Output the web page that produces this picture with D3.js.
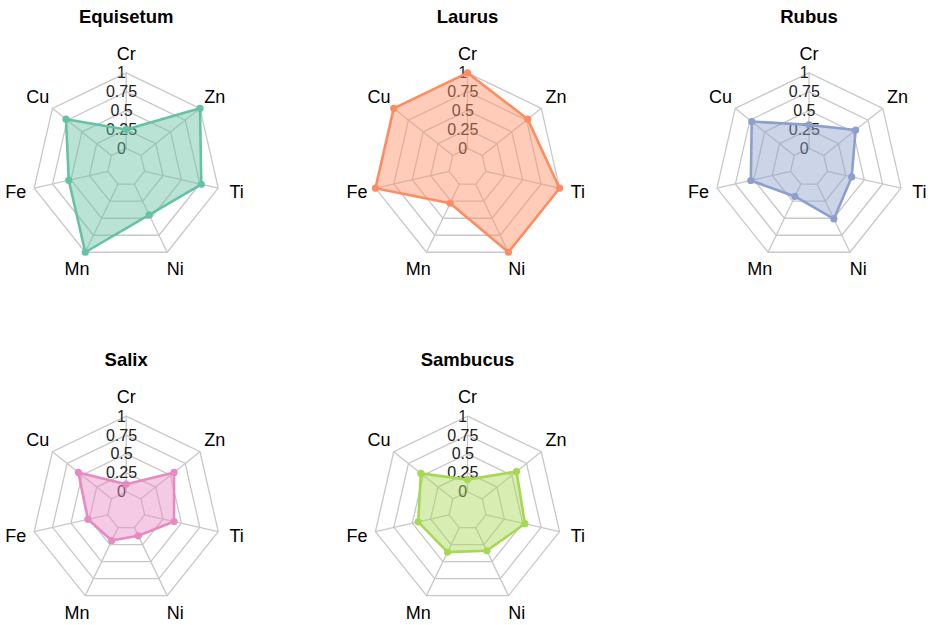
<!DOCTYPE html>
<html>
<head>
<meta charset="utf-8">
<script src="https://cdn.jsdelivr.net/npm/d3@7"></script>
<style>
  html, body { margin: 0; padding: 0; background: #fff; }
  svg { display: block; font-family: "Liberation Sans", Arial, sans-serif; }
</style>
</head>
<body>
<svg id="chart" width="935" height="625"></svg>
<script>
// Metal concentrations (scaled 0–1) per plant genus
const elements = ["Cr", "Zn", "Ti", "Ni", "Mn", "Fe", "Cu"];
const species = ["Equisetum", "Laurus", "Rubus", "Salix", "Sambucus"];
const colors = ["#66c2a5", "#fc8d62", "#8da0cb", "#e78ac3", "#a6d854"];

const equisetum = [0.25, 1.00, 0.77, 0.45, 1.00, 0.53, 0.77];
const laurus    = [1.00, 0.77, 1.00, 1.00, 0.28, 1.00, 1.00];
const rubus     = [0.31, 0.54, 0.33, 0.51, 0.18, 0.54, 0.72];
const salix     = [0.10, 0.56, 0.40, 0.12, 0.19, 0.27, 0.56];
const sambucus  = [0.16, 0.58, 0.53, 0.34, 0.36, 0.42, 0.54];
const seriesValues = [equisetum, laurus, rubus, salix, sambucus];

const ringValues = [0, 0.25, 0.5, 0.75, 1];
const ringLabels = ["0", "0.25", "0.5", "0.75", "1"];

const svg = d3.select("#chart");

const R = 94.4;
const colX = [126.2, 467.5, 809];
const rowY = [167.2, 510.6];

// radius: value 0 sits on the inner ring, value 1 on the outer ring
const r = d3.scaleLinear().domain([0, 1]).range([R / 5, R]);
const angle = d3.scaleLinear().domain([0, elements.length]).range([0, 2 * Math.PI]);

const px = (a, rad) => rad * Math.sin(a);
const py = (a, rad) => -rad * Math.cos(a);

species.forEach((name, k) => {
  const cx = colX[k % 3];
  const cy = rowY[Math.floor(k / 3)];
  const g = svg.append("g").attr("transform", `translate(${cx},${cy})`);
  const vals = seriesValues[k];
  const col = colors[k];

  // title
  g.append("text")
    .attr("x", 0).attr("y", -151)
    .attr("text-anchor", "middle")
    .attr("dominant-baseline", "central")
    .attr("font-size", 18.5).attr("font-weight", "bold")
    .attr("fill", "#000")
    .text(name);

  // web rings
  const ringLine = d3.lineRadial()
    .angle((d, i) => angle(i))
    .radius(d => d)
    .curve(d3.curveLinearClosed);

  ringValues.forEach(v => {
    g.append("path")
      .attr("d", ringLine(elements.map(() => r(v))))
      .attr("fill", "none")
      .attr("stroke", "#c8c8c8")
      .attr("stroke-width", 1.3);
  });

  // spokes from inner ring to outer ring
  g.selectAll("line.spoke").data(elements).join("line")
    .attr("class", "spoke")
    .attr("x1", (d, i) => px(angle(i), r(0)))
    .attr("y1", (d, i) => py(angle(i), r(0)))
    .attr("x2", (d, i) => px(angle(i), r(1)))
    .attr("y2", (d, i) => py(angle(i), r(1)))
    .attr("stroke", "#c8c8c8")
    .attr("stroke-width", 1.3);

  // scale labels along the top axis
  g.selectAll("text.scale").data(ringValues).join("text")
    .attr("class", "scale")
    .attr("x", -4.7)
    .attr("y", d => -r(d))
    .attr("text-anchor", "middle")
    .attr("dominant-baseline", "central")
    .attr("font-size", 16)
    .attr("fill", "#222")
    .text((d, i) => ringLabels[i]);

  // element labels
  g.selectAll("text.axis").data(elements).join("text")
    .attr("class", "axis")
    .attr("x", (d, i) => px(angle(i), 1.2 * R))
    .attr("y", (d, i) => py(angle(i), 1.2 * R))
    .attr("text-anchor", "middle")
    .attr("dominant-baseline", "central")
    .attr("font-size", 18)
    .attr("fill", "#000")
    .text(d => d);

  // data polygon
  const dataLine = d3.lineRadial()
    .angle((d, i) => angle(i))
    .radius(d => r(d))
    .curve(d3.curveLinearClosed);

  g.append("path")
    .attr("d", dataLine(vals))
    .attr("fill", col)
    .attr("fill-opacity", 0.45)
    .attr("stroke", col)
    .attr("stroke-width", 2.6)
    .attr("stroke-linejoin", "round");

  g.selectAll("circle.pt").data(vals).join("circle")
    .attr("class", "pt")
    .attr("cx", (d, i) => px(angle(i), r(d)))
    .attr("cy", (d, i) => py(angle(i), r(d)))
    .attr("r", 3.6)
    .attr("fill", col);
});
</script>
</body>
</html>
